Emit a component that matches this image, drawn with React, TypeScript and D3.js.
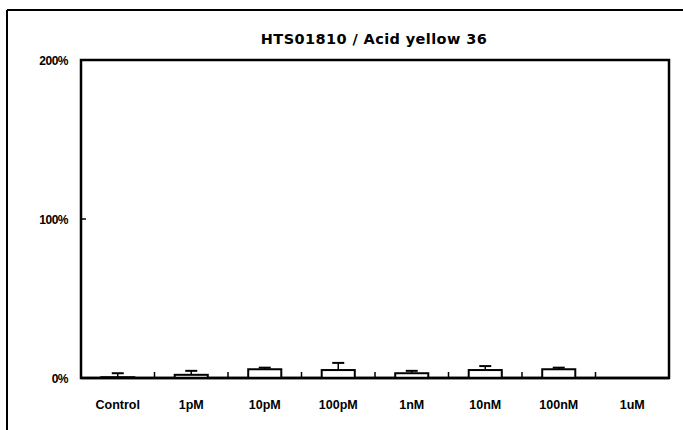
import * as d3 from 'd3';

const categories = ['Control', '1pM', '10pM', '100pM', '1nM', '10nM', '100nM', '1uM'];
const means = [0.5, 2, 5.5, 5, 3, 5, 5.5, 0];
const errors = [2.5, 2.5, 1, 4.5, 1.5, 2.5, 1, 0];
const yTicks = [0, 100, 200];
const title = 'HTS01810 / Acid yellow 36';

const W = 683;
const H = 430;
const margin = { top: 60, right: 14, bottom: 52, left: 81 };
const font = '"Liberation Sans", Arial, sans-serif';

export default function App() {
  const innerW = W - margin.left - margin.right;
  const innerH = H - margin.top - margin.bottom;

  const x = d3
    .scaleBand<string>()
    .domain(categories)
    .range([0, innerW])
    .paddingInner(0.55)
    .paddingOuter(0.275);

  const y = d3.scaleLinear().domain([0, 200]).range([innerH, 0]);

  const step = x.step();
  const bw = x.bandwidth();
  const capW = 12;

  return (
    <svg
      width={W}
      height={H}
      style={{ position: 'absolute', left: 0, top: 0, background: '#fff' }}
      fontFamily={font}
    >
      {/* outer frame (only top + left visible in the scan) */}
      <line x1={7} y1={10} x2={W} y2={10} stroke="#000" strokeWidth={2} />
      <line x1={7} y1={10} x2={7} y2={H} stroke="#000" strokeWidth={2} />

      <text
        x={margin.left + innerW / 2 - 1}
        y={44}
        textAnchor="middle"
        fontSize={14.5}
        fontWeight={700}
        fontFamily='"DejaVu Sans", sans-serif'
        letterSpacing={0.4}
        fill="#000"
      >
        {title}
      </text>

      <g transform={`translate(${margin.left},${margin.top})`}>
        <rect
          x={0}
          y={0}
          width={innerW}
          height={innerH}
          fill="none"
          stroke="#000"
          strokeWidth={2.5}
        />

        {yTicks.map((t) => (
          <g key={t}>
            <line x1={0} x2={5} y1={y(t)} y2={y(t)} stroke="#000" strokeWidth={1.5} />
            <text
              x={-13}
              y={y(t) + 5}
              textAnchor="end"
              fontSize={12}
              fontWeight={700}
              letterSpacing={-0.5}
              fill="#000"
            >
              {t}%
            </text>
          </g>
        ))}

        {categories.slice(1).map((c) => {
          const bx = (x(c) ?? 0) - (step - bw) / 2;
          return (
            <line
              key={c}
              x1={bx}
              x2={bx}
              y1={innerH}
              y2={innerH - 6}
              stroke="#000"
              strokeWidth={1.5}
            />
          );
        })}

        {categories.map((c, i) => {
          const cx = (x(c) ?? 0) + bw / 2;
          const top = y(means[i]);
          const errTop = y(means[i] + errors[i]);
          return (
            <g key={c}>
              {errors[i] > 0 && (
                <>
                  <line x1={cx} x2={cx} y1={top} y2={errTop} stroke="#000" strokeWidth={1.5} />
                  <line
                    x1={cx - capW / 2}
                    x2={cx + capW / 2}
                    y1={errTop}
                    y2={errTop}
                    stroke="#000"
                    strokeWidth={2}
                  />
                </>
              )}
              {means[i] > 0 && (
                <rect
                  x={x(c)}
                  y={top}
                  width={bw}
                  height={innerH - top}
                  fill="#fff"
                  stroke="#000"
                  strokeWidth={2}
                />
              )}
              <text
                x={cx}
                y={innerH + 31}
                textAnchor="middle"
                fontSize={12.5}
                fontWeight={700}
                fill="#000"
              >
                {c}
              </text>
            </g>
          );
        })}

        <line x1={0} x2={innerW} y1={innerH} y2={innerH} stroke="#000" strokeWidth={2.5} />
      </g>
    </svg>
  );
}
